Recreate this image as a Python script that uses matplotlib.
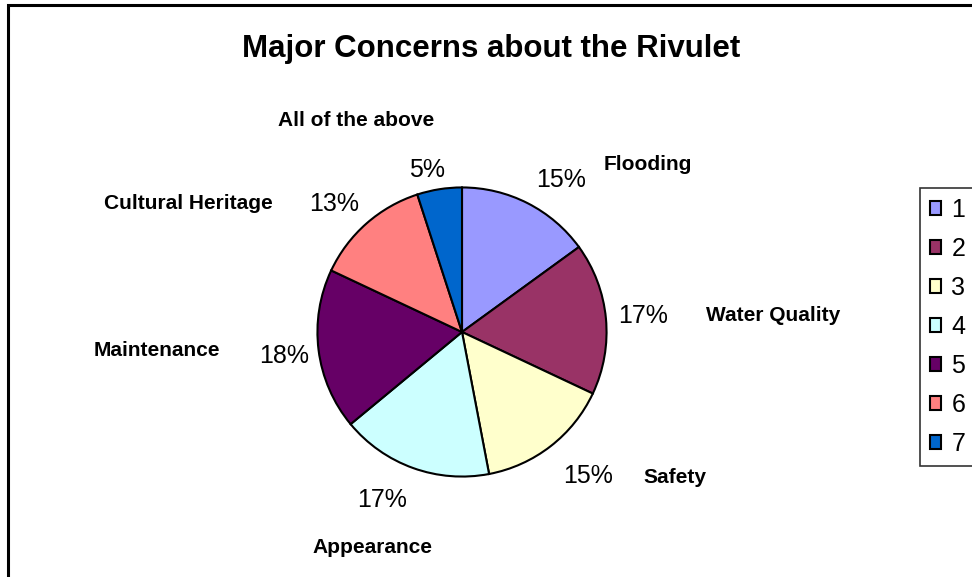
import matplotlib.pyplot as plt
from matplotlib.patches import Rectangle

plt.rcParams['font.family'] = ['Liberation Sans', 'DejaVu Sans']

# data
categories = ['Flooding', 'Water Quality', 'Safety', 'Appearance',
              'Maintenance', 'Cultural Heritage', 'All of the above']
shares = [15, 17, 15, 17, 18, 13, 5]
legend_labels = ['1', '2', '3', '4', '5', '6', '7']
colors = ['#9999FF', '#993366', '#FFFFCC', '#CCFFFF', '#660066', '#FF8080', '#0066CC']

# label placement (pixel coords, x centre / baseline y)
pct_pos = [(561, 187), (643, 323), (588, 483), (382, 507), (284, 363), (334, 211), (427, 177)]
cat_pos = [(648, 170), (773, 321), (675, 483), (372, 553), (157, 356), (188, 209), (356, 126)]

W, H = 972, 577
fig = plt.figure(figsize=(W / 100, H / 100), dpi=100)


def fx(x):
    return x / W


def fy(y):
    return 1 - y / H


# chart border (runs off right and bottom edge)
fig.patches.append(Rectangle((fx(8), fy(590)), 1.0, fy(5) - fy(590), transform=fig.transFigure,
                             fill=False, edgecolor='black', linewidth=2.2))

cx, cy, r = 462, 332, 146
ax = fig.add_axes([fx(cx - r), fy(cy + r), 2 * r / W, 2 * r / H])
wedges, _ = ax.pie(shares, colors=colors, startangle=90, counterclock=False, radius=1,
                   wedgeprops=dict(edgecolor='black', linewidth=1.5))
ax.set_xlim(-1.01, 1.01)
ax.set_ylim(-1.01, 1.01)
ax.set_aspect('auto')
ax.axis('off')

fig.text(fx(491), fy(57), 'Major Concerns about the Rivulet', ha='center', va='baseline',
         fontsize=22.5, fontweight='bold')

for v, (x, y) in zip(shares, pct_pos):
    fig.text(fx(x), fy(y), f'{v}%', ha='center', va='baseline', fontsize=18)

for name, (x, y) in zip(categories, cat_pos):
    fig.text(fx(x), fy(y), name, ha='center', va='baseline', fontsize=15, fontweight='bold')

leg = fig.legend(wedges, legend_labels, loc='upper left', bbox_to_anchor=(fx(920), fy(188)),
                 fontsize=18, frameon=True, fancybox=False, edgecolor='black',
                 handlelength=0.45, handleheight=0.45, handletextpad=0.4,
                 labelspacing=0.6, borderpad=0.4, borderaxespad=0)
leg.get_frame().set_linewidth(1.2)
for h in leg.legend_handles:
    h.set_linewidth(1.5)

fig.savefig('out.png', dpi=100)
